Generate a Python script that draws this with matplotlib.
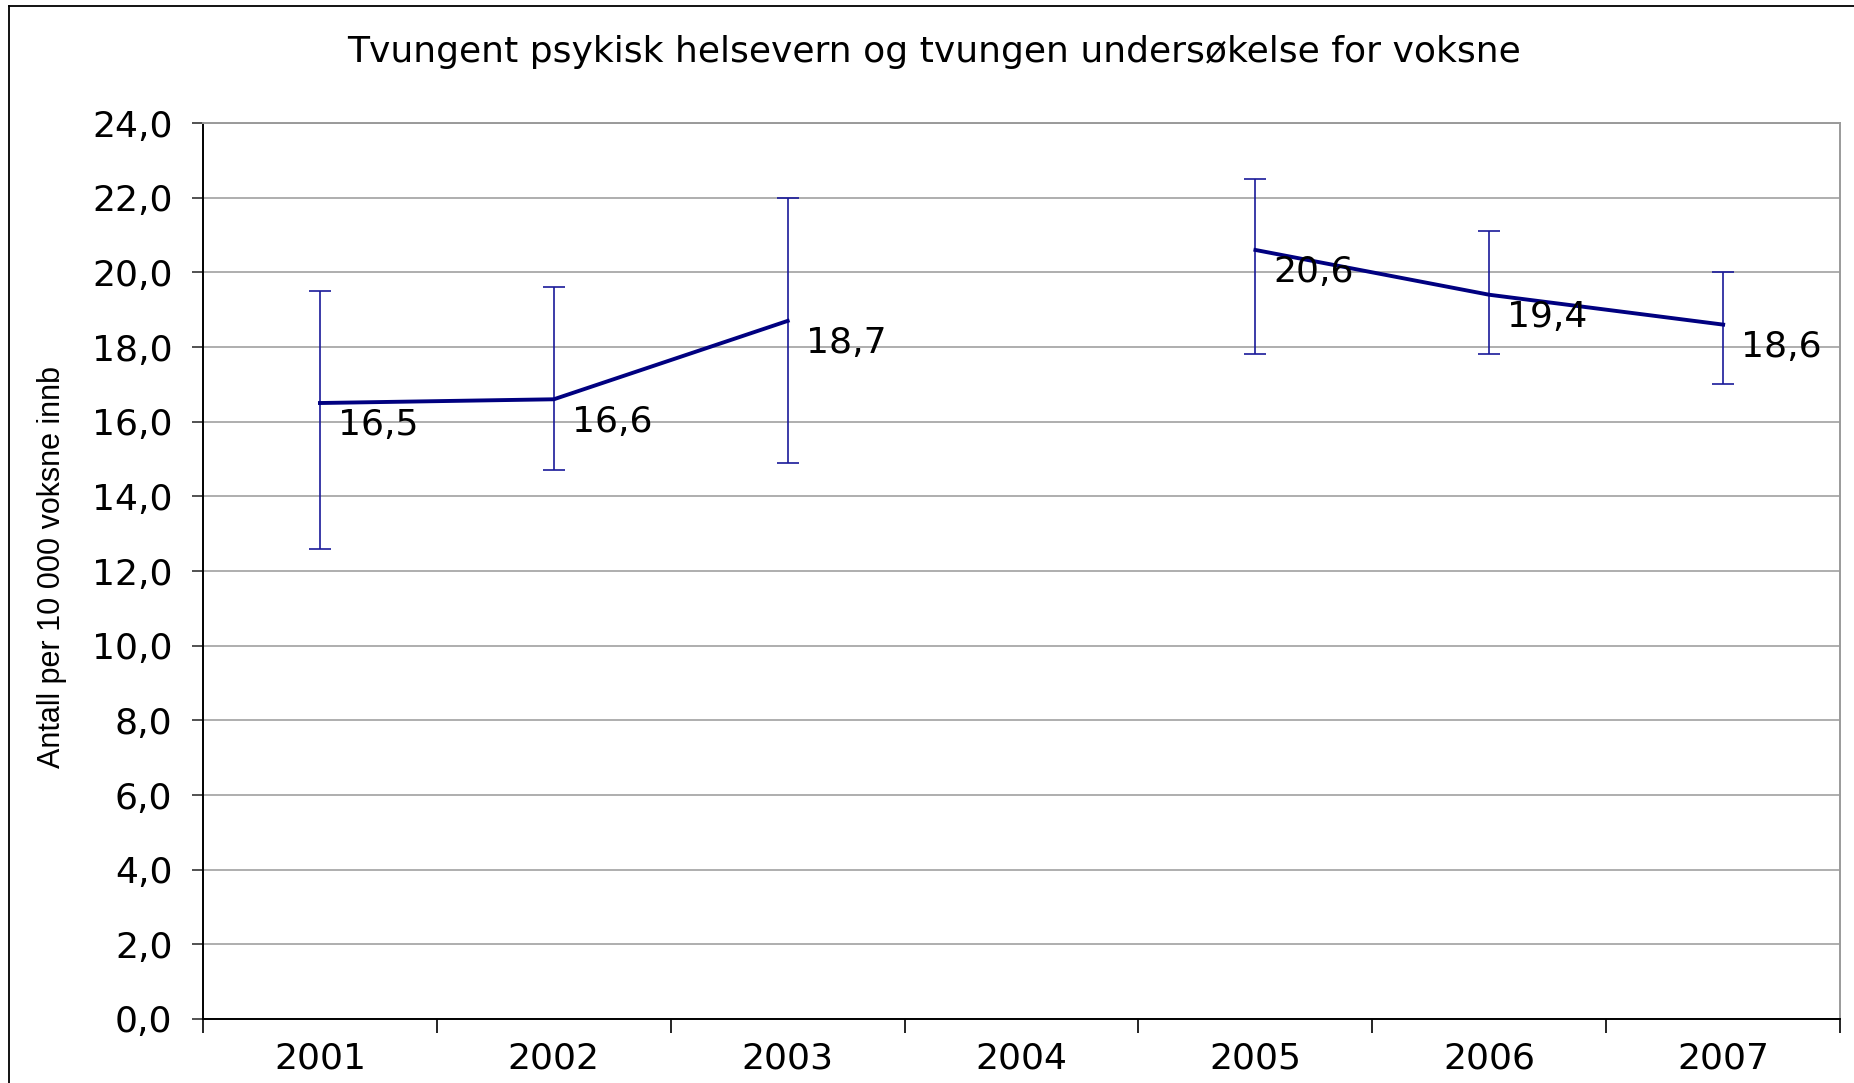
import numpy as np
import matplotlib.pyplot as plt
from matplotlib.lines import Line2D

# Data
years = ["2001", "2002", "2003", "2004", "2005", "2006", "2007"]
values = [16.5, 16.6, 18.7, np.nan, 20.6, 19.4, 18.6]
upper = [19.5, 19.6, 22.0, np.nan, 22.5, 21.1, 20.0]
lower = [12.6, 14.7, 14.9, np.nan, 17.8, 17.8, 17.0]

title = "Tvungent psykisk helsevern og tvungen undersøkelse for voksne"
ylabel = "Antall per 10 000 voksne innb"

NAVY = "#000080"
FS = 26

fig = plt.figure(figsize=(18.54, 10.83), dpi=100)
ax = fig.add_axes([0.1095, 0.0591, 0.8830, 0.8273])

x = np.arange(len(years))
vals = np.array(values)
yerr = [vals - np.array(lower), np.array(upper) - vals]

ax.errorbar(x, vals, yerr=yerr, fmt="none", ecolor="#1a1a9a", elinewidth=1.2,
            capsize=8, capthick=1.2, zorder=3)
ax.plot(x, vals, color=NAVY, lw=2.8, zorder=4)

for xi, v in zip(x, values):
    if np.isnan(v):
        continue
    ax.annotate(f"{v:.1f}".replace(".", ","), (xi, v), xytext=(13, -16),
                textcoords="offset points", ha="left", va="center",
                fontsize=FS, color="black", zorder=5)

ax.set_xlim(-0.5, len(years) - 0.5)
ax.set_ylim(0, 24)

# y axis
yt = np.arange(0, 24.1, 2)
ax.set_yticks(yt)
ax.set_yticklabels([f"{t:.1f}".replace(".", ",") for t in yt], fontsize=FS)
ax.tick_params(axis="y", direction="out", length=8, width=1.2, pad=14,
               color="#333333")
ax.grid(axis="y", color="#a8a8a8", lw=1.3, zorder=0)

# x axis: tick marks between categories, labels in the middle
ax.set_xticks(np.arange(-0.5, len(years), 1))
ax.set_xticklabels([])
ax.set_xticks(x, minor=True)
ax.set_xticklabels(years, minor=True, fontsize=FS)
ax.tick_params(axis="x", which="major", direction="out", length=10, width=1.2)
ax.tick_params(axis="x", which="minor", length=0, pad=16)

for s in ("left", "bottom"):
    ax.spines[s].set_color("black")
    ax.spines[s].set_linewidth(1.4)
for s in ("top", "right"):
    ax.spines[s].set_color("#9a9a9a")
    ax.spines[s].set_linewidth(1.4)

fig.text(0.504, 0.952, title, ha="center", va="center", fontsize=26)
fig.text(0.028, 0.476, ylabel, ha="center", va="center", rotation=90,
         fontsize=22, family="Liberation Sans")

# outer chart frame (left and top edges visible)
fig.add_artist(Line2D([0.0051, 0.0051], [0, 0.9945], transform=fig.transFigure,
                      color="black", lw=1.3))
fig.add_artist(Line2D([0.0051, 1.0], [0.9945, 0.9945], transform=fig.transFigure,
                      color="black", lw=1.3))

fig.savefig("out.png", dpi=100)
